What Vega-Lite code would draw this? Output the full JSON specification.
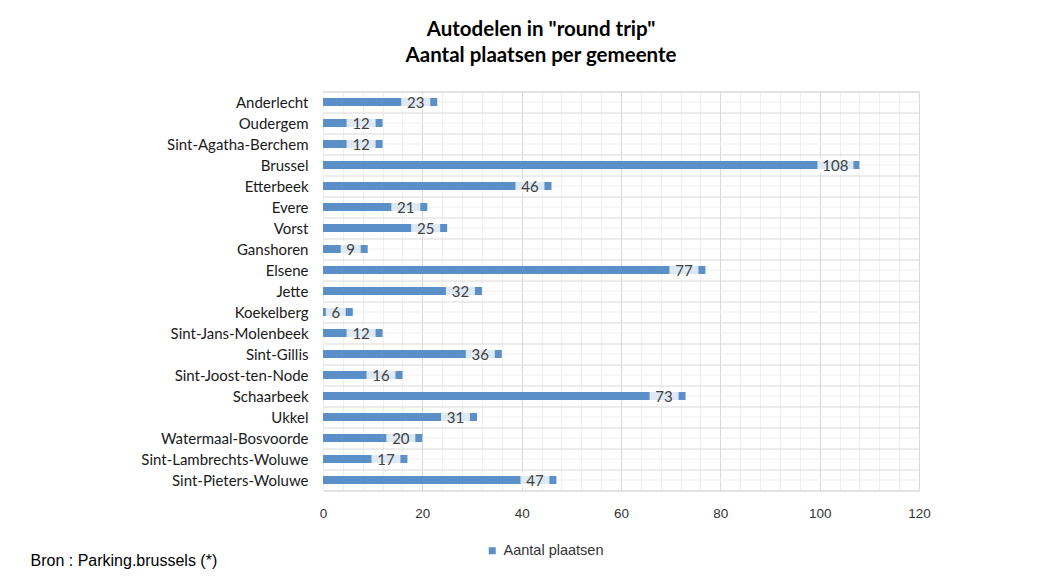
{
  "$schema": "https://vega.github.io/schema/vega-lite/v6.json",
  "autosize": {"type": "none"},
  "padding": {"left": 323, "top": 91.5, "right": 139, "bottom": 86.5},
  "width": 596,
  "height": 399,
  "background": "white",
  "config": {
    "view": {"stroke": "#d9d9d9", "strokeWidth": 1},
    "font": "Lato"
  },
  "title": {
    "text": ["Autodelen in \"round trip\"", "Aantal plaatsen per gemeente"],
    "anchor": "middle",
    "dx": -80,
    "offset": 18,
    "font": "Lato",
    "fontSize": 20.5,
    "fontWeight": "bold",
    "color": "#000000",
    "lineHeight": 26
  },
  "data": {
    "values": [
      {"gemeente": "Anderlecht", "n": 23},
      {"gemeente": "Oudergem", "n": 12},
      {"gemeente": "Sint-Agatha-Berchem", "n": 12},
      {"gemeente": "Brussel", "n": 108},
      {"gemeente": "Etterbeek", "n": 46},
      {"gemeente": "Evere", "n": 21},
      {"gemeente": "Vorst", "n": 25},
      {"gemeente": "Ganshoren", "n": 9},
      {"gemeente": "Elsene", "n": 77},
      {"gemeente": "Jette", "n": 32},
      {"gemeente": "Koekelberg", "n": 6},
      {"gemeente": "Sint-Jans-Molenbeek", "n": 12},
      {"gemeente": "Sint-Gillis", "n": 36},
      {"gemeente": "Sint-Joost-ten-Node", "n": 16},
      {"gemeente": "Schaarbeek", "n": 73},
      {"gemeente": "Ukkel", "n": 31},
      {"gemeente": "Watermaal-Bosvoorde", "n": 20},
      {"gemeente": "Sint-Lambrechts-Woluwe", "n": 17},
      {"gemeente": "Sint-Pieters-Woluwe", "n": 47}
    ]
  },
  "resolve": {"axis": {"x": "independent", "y": "independent"}},
  "layer": [
    {
      "mark": {"type": "bar", "height": 8, "color": "#5b8fc8"},
      "encoding": {
        "y": {
          "field": "gemeente", "type": "nominal", "sort": null,
          "scale": {"paddingInner": 0, "paddingOuter": 0},
          "axis": {
            "title": null, "orient": "left", "domain": false, "ticks": false,
            "tickBand": "extent", "grid": true, "gridColor": "#d9d9d9",
            "labelPadding": 15, "labelFont": "Lato", "labelFontSize": 15,
            "labelColor": "#1a1a1a"
          }
        },
        "x": {
          "field": "n", "type": "quantitative",
          "scale": {"domain": [0, 120], "nice": false},
          "axis": {
            "orient": "bottom",
            "values": [0, 20, 40, 60, 80, 100, 120],
            "domain": false, "ticks": false, "grid": true, "gridColor": "#d9d9d9",
            "labelFlush": false,
            "labelPadding": 16, "labelFont": "Liberation Sans Narrow, Liberation Sans",
            "labelFontSize": 13.5, "labelColor": "#333333",
            "title": "Bron : Parking.brussels (*)",
            "titleX": -293, "titleY": 69.5, "titleAlign": "left", "titleAnchor": "start",
            "titleBaseline": "middle",
            "titleFont": "Liberation Sans", "titleFontSize": 16, "titleFontWeight": "normal",
            "titleColor": "#000000"
          }
        },
        "color": {
          "datum": "Aantal plaatsen",
          "scale": {"range": ["#5b8fc8"]},
          "legend": {
            "title": null, "orient": "none", "legendX": 162, "legendY": 452,
            "symbolType": "square", "symbolSize": 49, "symbolStrokeWidth": 0,
            "labelFont": "Liberation Sans Narrow, Liberation Sans", "labelFontSize": 14.5,
            "labelColor": "#333333", "labelOffset": 4
          }
        }
      }
    },
    {
      "transform": [{"filter": "datum.n >= 10 && datum.n < 100"}],
      "mark": {"type": "bar", "height": 15, "color": "#ffffff", "opacity": 0.8, "xOffset": -36, "x2Offset": -7},
      "encoding": {
        "y": {
          "field": "gemeente", "type": "nominal", "sort": null,
          "axis": {
            "title": null, "orient": "right", "domain": false, "ticks": false, "labels": false,
            "grid": true, "gridColor": "#efefef"
          }
        },
        "x": {
          "field": "n", "type": "quantitative",
          "axis": {
            "title": null, "orient": "top",
            "values": [0,4,8,12,16,24,28,32,36,44,48,52,56,64,68,72,76,84,88,92,96,104,108,112,116],
            "domain": false, "ticks": false, "labels": false, "grid": true, "gridColor": "#efefef"
          }
        },
        "x2": {"field": "n"}
      }
    },
    {
      "transform": [{"filter": "datum.n < 10"}],
      "mark": {"type": "bar", "height": 15, "color": "#ffffff", "opacity": 0.8, "xOffset": -27, "x2Offset": -7},
      "encoding": {
        "y": {"field": "gemeente", "type": "nominal", "sort": null, "axis": null},
        "x": {"field": "n", "type": "quantitative", "axis": null},
        "x2": {"field": "n"}
      }
    },
    {
      "transform": [{"filter": "datum.n >= 100"}],
      "mark": {"type": "bar", "height": 15, "color": "#ffffff", "opacity": 0.8, "xOffset": -42, "x2Offset": -6},
      "encoding": {
        "y": {"field": "gemeente", "type": "nominal", "sort": null, "axis": null},
        "x": {"field": "n", "type": "quantitative", "axis": null},
        "x2": {"field": "n"}
      }
    },
    {
      "transform": [{"filter": "datum.n >= 10 && datum.n < 100"}],
      "mark": {"type": "text", "align": "center", "baseline": "middle", "dx": -21.5, "dy": 1, "font": "Lato", "fontSize": 15, "color": "#404040"},
      "encoding": {
        "y": {"field": "gemeente", "type": "nominal", "sort": null, "axis": null},
        "x": {"field": "n", "type": "quantitative", "axis": null},
        "text": {"field": "n", "type": "quantitative"}
      }
    },
    {
      "transform": [{"filter": "datum.n < 10"}],
      "mark": {"type": "text", "align": "center", "baseline": "middle", "dx": -17, "dy": 1, "font": "Lato", "fontSize": 15, "color": "#404040"},
      "encoding": {
        "y": {"field": "gemeente", "type": "nominal", "sort": null, "axis": null},
        "x": {"field": "n", "type": "quantitative", "axis": null},
        "text": {"field": "n", "type": "quantitative"}
      }
    },
    {
      "transform": [{"filter": "datum.n >= 100"}],
      "mark": {"type": "text", "align": "center", "baseline": "middle", "dx": -24, "dy": 1, "font": "Lato", "fontSize": 15, "color": "#404040"},
      "encoding": {
        "y": {"field": "gemeente", "type": "nominal", "sort": null, "axis": null},
        "x": {"field": "n", "type": "quantitative", "axis": null},
        "text": {"field": "n", "type": "quantitative"}
      }
    }
  ]
}
